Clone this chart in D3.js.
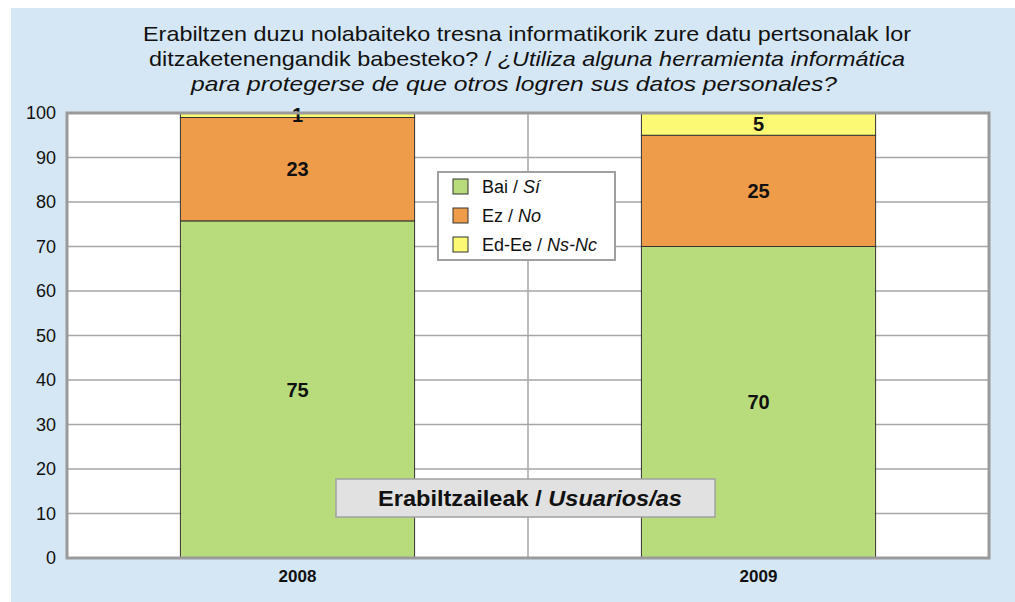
<!DOCTYPE html>
<html>
<head>
<meta charset="utf-8">
<script src="https://cdn.jsdelivr.net/npm/d3@7"></script>
<style>
  body { margin: 0; background: #fff; }
  svg { display: block; font-family: Arial, "Liberation Sans", sans-serif; }
</style>
</head>
<body>
<svg id="chart" width="1015" height="602"></svg>
<script>
// data
const years = ['2008', '2009'];
const bai = [75, 70];
const ez = [23, 25];
const edEe = [1, 5];
const yTicks = [0, 10, 20, 30, 40, 50, 60, 70, 80, 90, 100];

const seriesKeys = ['bai', 'ez', 'edee'];
const colors = { bai: '#b8dc7c', ez: '#ef9c4a', edee: '#fcfa74' };
const legendItems = [
  { key: 'bai', eu: 'Bai / ', es: 'Sí' },
  { key: 'ez', eu: 'Ez / ', es: 'No' },
  { key: 'edee', eu: 'Ed-Ee / ', es: 'Ns-Nc' }
];

const table = years.map((y, i) => ({ year: y, bai: bai[i], ez: ez[i], edee: edEe[i] }));

const svg = d3.select('#chart');

// outer background
svg.append('rect')
  .attr('x', 11).attr('y', 8)
  .attr('width', 1004).attr('height', 594)
  .attr('fill', '#d5e7f5');

// title
const title = svg.append('text')
  .attr('text-anchor', 'middle')
  .attr('font-size', 21)
  .attr('fill', '#111');
title.append('tspan').attr('x', 527).attr('y', 41)
  .attr('textLength', 768).attr('lengthAdjust', 'spacingAndGlyphs')
  .text('Erabiltzen duzu nolabaiteko tresna informatikorik zure datu pertsonalak lor');
title.append('tspan').attr('x', 527).attr('y', 66)
  .attr('textLength', 756).attr('lengthAdjust', 'spacingAndGlyphs')
  .html('ditzaketenengandik babesteko? / <tspan font-style="italic">¿Utiliza alguna herramienta informática</tspan>');
title.append('tspan').attr('x', 514).attr('y', 91)
  .attr('font-style', 'italic')
  .attr('textLength', 646).attr('lengthAdjust', 'spacingAndGlyphs')
  .text('para protegerse de que otros logren sus datos personales?');

const margin = { left: 67, top: 113, right: 989, bottom: 558 };
const width = margin.right - margin.left;
const height = margin.bottom - margin.top;

const g = svg.append('g').attr('transform', `translate(${margin.left},${margin.top})`);

const x = d3.scaleBand().domain(years).range([0, width]).paddingInner(0).paddingOuter(0);
const y = d3.scaleLinear().domain([0, 100]).range([height, 0]);

// plot area
g.append('rect')
  .attr('width', width).attr('height', height)
  .attr('fill', '#fff');

// gridlines
g.append('g')
  .selectAll('line')
  .data(yTicks.slice(1, -1))
  .join('line')
  .attr('x1', 0).attr('x2', width)
  .attr('y1', d => y(d)).attr('y2', d => y(d))
  .attr('stroke', '#a6a6a6').attr('stroke-width', 1.5);

g.append('line')
  .attr('x1', x('2009')).attr('x2', x('2009'))
  .attr('y1', 0).attr('y2', height)
  .attr('stroke', '#a6a6a6').attr('stroke-width', 1.5);

// y axis
const yAxis = d3.axisLeft(y).tickValues(yTicks).tickSize(0).tickPadding(11);
g.append('g')
  .call(yAxis)
  .call(a => a.select('.domain').remove())
  .selectAll('text')
  .attr('font-size', 18)
  .attr('font-family', 'Arial, "Liberation Sans", sans-serif')
  .attr('fill', '#111');

// stacked bars (100% stacked)
const stack = d3.stack().keys(seriesKeys).offset(d3.stackOffsetExpand);
const layers = stack(table);
const barW = x.bandwidth() * 0.508;
const barX = d => x(d.data.year) + (x.bandwidth() - barW) / 2;

layers.forEach(layer => {
  const key = layer.key;
  g.append('g')
    .selectAll('rect')
    .data(layer)
    .join('rect')
    .attr('x', barX)
    .attr('width', barW)
    .attr('y', d => y(d[1] * 100))
    .attr('height', d => y(d[0] * 100) - y(d[1] * 100))
    .attr('fill', colors[key])
    .attr('stroke', '#333')
    .attr('stroke-width', 1);

  g.append('g')
    .selectAll('text')
    .data(layer)
    .join('text')
    .attr('x', d => x(d.data.year) + x.bandwidth() / 2)
    .attr('y', d => y((d[0] + d[1]) / 2 * 100))
    .attr('dy', '0.36em')
    .attr('text-anchor', 'middle')
    .attr('font-size', 20)
    .attr('font-weight', 'bold')
    .attr('fill', '#111')
    .text(d => d.data[key]);
});

// plot border
g.append('rect')
  .attr('width', width).attr('height', height)
  .attr('fill', 'none')
  .attr('stroke', '#9a9a9a').attr('stroke-width', 3);

// x axis labels
const xAxis = d3.axisBottom(x).tickSize(0).tickPadding(12);
g.append('g')
  .attr('transform', `translate(0,${height})`)
  .call(xAxis)
  .call(a => a.select('.domain').remove())
  .selectAll('text')
  .attr('font-size', 17)
  .attr('font-weight', 'bold')
  .attr('font-family', 'Arial, "Liberation Sans", sans-serif')
  .attr('fill', '#111');

// legend
const legend = svg.append('g').attr('transform', 'translate(438,172)');
legend.append('rect')
  .attr('width', 177).attr('height', 88)
  .attr('fill', '#fff')
  .attr('stroke', '#a0a0a0').attr('stroke-width', 2);
const li = legend.selectAll('g.item')
  .data(legendItems)
  .join('g')
  .attr('class', 'item')
  .attr('transform', (d, i) => `translate(15,${7 + i * 29})`);
li.append('rect')
  .attr('width', 15).attr('height', 15)
  .attr('fill', d => colors[d.key])
  .attr('stroke', '#333').attr('stroke-width', 1);
const lt = li.append('text')
  .attr('x', 29).attr('y', 14)
  .attr('font-size', 18)
  .attr('fill', '#111');
lt.append('tspan').text(d => d.eu);
lt.append('tspan').attr('font-style', 'italic').text(d => d.es);

// group label box
svg.append('rect')
  .attr('x', 336).attr('y', 479)
  .attr('width', 379).attr('height', 38)
  .attr('fill', '#e1e1e1')
  .attr('stroke', '#a0a0a0').attr('stroke-width', 1.5);
const gl = svg.append('text')
  .attr('x', 530).attr('y', 506)
  .attr('text-anchor', 'middle')
  .attr('font-size', 22)
  .attr('font-weight', 'bold')
  .attr('textLength', 304).attr('lengthAdjust', 'spacingAndGlyphs')
  .attr('fill', '#111');
gl.append('tspan').text('Erabiltzaileak / ');
gl.append('tspan').attr('font-style', 'italic').text('Usuarios/as');
</script>
</body>
</html>
